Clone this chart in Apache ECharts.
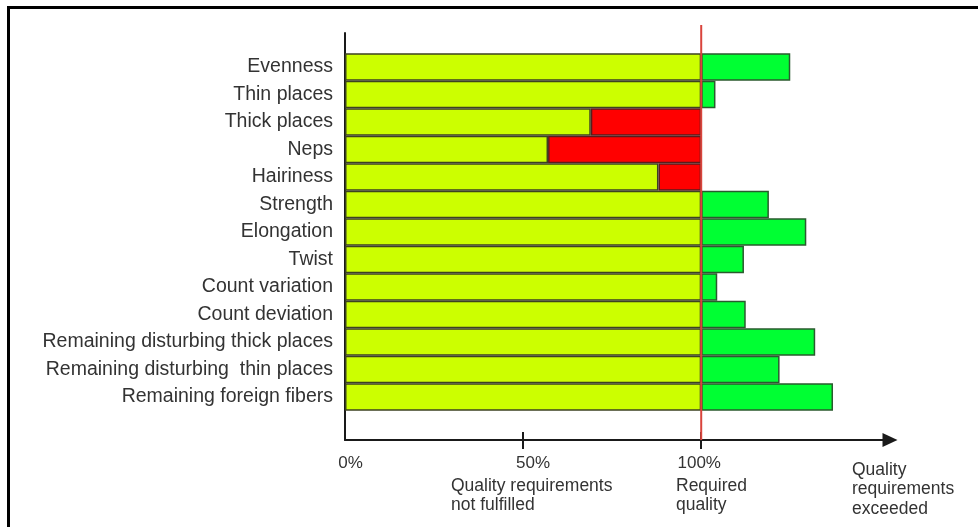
<!DOCTYPE html>
<html>
<head>
<meta charset="utf-8">
<script src="https://cdn.jsdelivr.net/npm/echarts@6/dist/echarts.min.js"></script>
<style>
  html, body { margin: 0; padding: 0; background: #fff; }
  #chart { width: 978px; height: 527px; }
</style>
</head>
<body>
<div id="chart"></div>
<script>
// Yarn quality profile: each parameter relative to the required quality level (100 %)
const categories = [
  'Evenness',
  'Thin places',
  'Thick places',
  'Neps',
  'Hairiness',
  'Strength',
  'Elongation',
  'Twist',
  'Count variation',
  'Count deviation',
  'Remaining disturbing thick places',
  'Remaining disturbing  thin places',
  'Remaining foreign fibers'
];
const values = [125, 104, 69, 57, 88, 119, 129.5, 112, 104.5, 112.5, 132, 122, 137];
const REQUIRED = 100;
const tickValues = [50, 100];
const labelValues = [0, 50, 100];
const captions = {
  low: 'Quality requirements\nnot fulfilled',
  required: 'Required\nquality',
  high: 'Quality\nrequirements\nexceeded'
};

// Stack segments: part up to the requirement, missing part, surplus part
const fulfilled = values.map(v => Math.min(v, REQUIRED));
const shortfall = values.map(v => (v < REQUIRED ? REQUIRED - v : '-'));
const surplus = values.map(v => (v > REQUIRED ? v - REQUIRED : '-'));

const FONT = '"Liberation Sans", Arial, Helvetica, sans-serif';
const TEXT = '#333';
const INK = '#1a1a1a';
const XMAX = 153;
const L = 345, R = 88;
const CAPTION_FONT = '17.5px ' + FONT;

const chart = echarts.init(document.getElementById('chart'), null, { renderer: 'canvas' });

const hiddenValueX = (grid) => ({
  gridIndex: grid, type: 'value', min: 0, max: XMAX, show: false
});

chart.setOption({
  animation: false,
  backgroundColor: '#fff',
  grid: [
    { left: L, right: R, top: 33, bottom: 87 },      // axis frame
    { left: L, right: R, top: 53.3, bottom: 116.3 }, // bars
    { left: L, right: R, top: 25, bottom: 87 }       // required-quality line
  ],
  xAxis: [
    {
      gridIndex: 0, type: 'value', min: 0, max: XMAX, position: 'bottom',
      axisLine: {
        show: true, onZero: false,
        lineStyle: { color: INK, width: 2 },
        symbol: ['none', 'triangle'], symbolSize: [14, 15]
      },
      axisTick: {
        show: true, customValues: tickValues, length: 9,
        lineStyle: { color: INK, width: 2 }
      },
      axisLabel: {
        show: true, customValues: labelValues, margin: 15,
        fontFamily: FONT, fontSize: 17, color: TEXT,
        formatter: v => `{t${v}|${v}%}`,
        rich: {
          t0: { fontFamily: FONT, fontSize: 17, color: TEXT, padding: [0, 0, 0, 11] },
          t50: { fontFamily: FONT, fontSize: 17, color: TEXT, padding: [0, 0, 0, 20] },
          t100: { fontFamily: FONT, fontSize: 17, color: TEXT, padding: [0, 4, 0, 0] }
        }
      },
      splitLine: { show: false }
    },
    {
      gridIndex: 0, type: 'value', min: 0, max: XMAX, position: 'bottom',
      axisLine: { show: false, onZero: false },
      axisTick: {
        show: true, inside: true, customValues: tickValues, length: 8,
        lineStyle: { color: INK, width: 2 }
      },
      axisLabel: { show: false },
      splitLine: { show: false }
    },
    hiddenValueX(1),
    hiddenValueX(2)
  ],
  yAxis: [
    {
      gridIndex: 0, type: 'value', min: 0, max: 1,
      axisLine: { show: true, onZero: false, lineStyle: { color: INK, width: 2 } },
      axisTick: { show: false }, axisLabel: { show: false }, splitLine: { show: false }
    },
    {
      gridIndex: 1, type: 'category', data: categories, inverse: true,
      axisLine: { show: false }, axisTick: { show: false },
      axisLabel: { fontFamily: FONT, fontSize: 19.5, color: TEXT, margin: 12 },
      splitLine: { show: false }
    },
    { gridIndex: 2, type: 'value', min: 0, max: 1, show: false }
  ],
  series: [
    {
      name: 'fulfilled', type: 'bar', stack: 'q', xAxisIndex: 2, yAxisIndex: 1,
      data: fulfilled, barWidth: '100%', barCategoryGap: '0%',
      itemStyle: { color: '#ccff00', borderColor: '#3c4220', borderWidth: 1.5 },
      silent: true
    },
    {
      name: 'shortfall', type: 'bar', stack: 'q', xAxisIndex: 2, yAxisIndex: 1,
      data: shortfall, barWidth: '100%',
      itemStyle: { color: '#ff0000', borderColor: '#5a1c1c', borderWidth: 1.5 },
      silent: true
    },
    {
      name: 'surplus', type: 'bar', stack: 'q', xAxisIndex: 2, yAxisIndex: 1,
      data: surplus, barWidth: '100%',
      itemStyle: { color: '#00ff33', borderColor: '#2a5a2e', borderWidth: 1.5 },
      silent: true
    },
    {
      name: 'required', type: 'line', xAxisIndex: 3, yAxisIndex: 2,
      data: [[REQUIRED, 0], [REQUIRED, 1]],
      symbol: 'none', z: 5, silent: true,
      lineStyle: { color: '#d9443c', width: 2 }
    }
  ],
  graphic: [
    {
      type: 'rect', silent: true,
      shape: { x: 8.5, y: 7.5, width: 1100, height: 700 },
      style: { fill: 'none', stroke: '#000', lineWidth: 3 }
    },
    {
      type: 'text', x: 451, y: 476, silent: true,
      style: { text: captions.low, font: CAPTION_FONT, fill: TEXT, lineHeight: 19.5, verticalAlign: 'top' }
    },
    {
      type: 'text', x: 676, y: 476, silent: true,
      style: { text: captions.required, font: CAPTION_FONT, fill: TEXT, lineHeight: 19.5, verticalAlign: 'top' }
    },
    {
      type: 'text', x: 852, y: 460, silent: true,
      style: { text: captions.high, font: CAPTION_FONT, fill: TEXT, lineHeight: 19.5, verticalAlign: 'top' }
    }
  ]
});
</script>
</body>
</html>
